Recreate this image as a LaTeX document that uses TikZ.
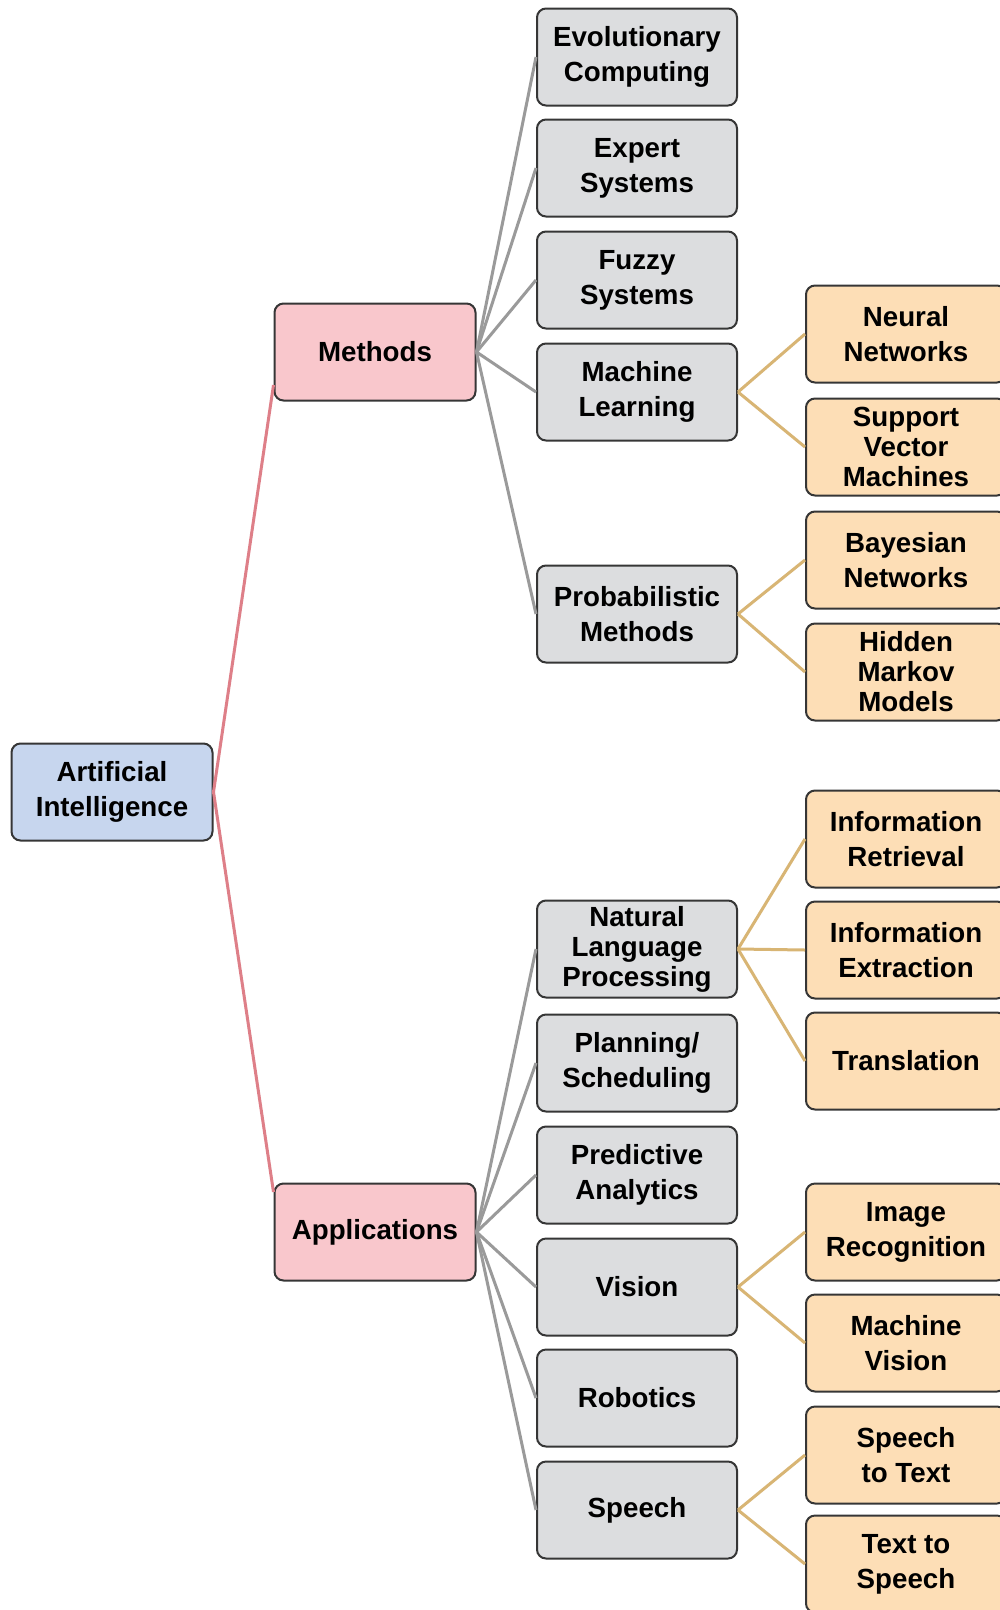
\documentclass[tikz,border=0pt]{standalone}
\usepackage{fontspec}
\setmainfont{Liberation Sans}
\definecolor{aiblue}{HTML}{C7D6EE}
\definecolor{branchpink}{HTML}{F9C7CC}
\definecolor{topicgray}{HTML}{DCDDDF}
\definecolor{leafpeach}{HTML}{FDDEB6}
\definecolor{boxline}{HTML}{363636}
\definecolor{linkred}{HTML}{DE7F88}
\definecolor{linkgray}{HTML}{9A9A9A}
\definecolor{linktan}{HTML}{D8B574}
\begin{document}
\begin{tikzpicture}[x=1pt,y=-1pt,
  box/.style={draw=boxline, line width=2pt, rounded corners=9pt,
    minimum width=200pt, minimum height=97pt, inner sep=0pt, align=center,
    text=black, font=\bfseries\fontsize{27.7}{35}\selectfont},
  tight/.style={font=\bfseries\fontsize{27.7}{30}\selectfont},
  rootbox/.style={box, fill=aiblue, minimum width=201pt},
  branchbox/.style={box, fill=branchpink, minimum width=201pt},
  topicbox/.style={box, fill=topicgray},
  leafbox/.style={box, fill=leafpeach},
  redlink/.style={draw=linkred, line width=3pt},
  graylink/.style={draw=linkgray, line width=3pt},
  tanlink/.style={draw=linktan, line width=3pt}]
\useasboundingbox (0,0) rectangle (1000,1610);
\clip (0,0) rectangle (1000,1610);
\fill[white] (0,0) rectangle (1000,1610);

% root and main branches
\node[rootbox] (ai) at (112,792) {Artificial\\Intelligence};
\node[branchbox] (meth) at (375,352) {Methods};
\node[branchbox] (app) at (375,1232) {Applications};

% methods
\node[topicbox] (evo) at (637,57) {Evolutionary\\Computing};
\node[topicbox] (exp) at (637,168) {Expert\\Systems};
\node[topicbox] (fuz) at (637,280) {Fuzzy\\Systems};
\node[topicbox] (ml) at (637,392) {Machine\\Learning};
\node[topicbox] (prob) at (637,614) {Probabilistic\\Methods};

% applications
\node[topicbox, tight] (nlp) at (637,949) {Natural\\Language\\Processing};
\node[topicbox] (plan) at (637,1063) {Planning/\\Scheduling};
\node[topicbox] (pred) at (637,1175) {Predictive\\Analytics};
\node[topicbox] (vis) at (637,1287) {Vision};
\node[topicbox] (rob) at (637,1398) {Robotics};
\node[topicbox] (sp) at (637,1510) {Speech};

% leaves
\node[leafbox] (nn) at (906,334) {Neural\\Networks};
\node[leafbox, tight] (svm) at (906,447) {Support\\Vector\\Machines};
\node[leafbox] (bay) at (906,560) {Bayesian\\Networks};
\node[leafbox, tight] (hmm) at (906,672) {Hidden\\Markov\\Models};
\node[leafbox] (ir) at (906,839) {Information\\Retrieval};
\node[leafbox] (ie) at (906,950) {Information\\Extraction};
\node[leafbox] (tr) at (906,1061) {Translation};
\node[leafbox] (imr) at (906,1232) {Image\\Recognition};
\node[leafbox] (mv) at (906,1343) {Machine\\Vision};
\node[leafbox] (stt) at (906,1455) {Speech\\to Text};
\node[leafbox] (tts) at (906,1564) {Text to\\Speech};

% connectors
\draw[redlink] (ai.east) -- ([yshift=-33pt]meth.west);
\draw[redlink] (ai.east) -- ([yshift=40pt]app.west);

\foreach \t in {evo,exp,fuz,ml,prob}
  \draw[graylink] (meth.east) -- (\t.west);
\foreach \t in {nlp,plan,pred,vis,rob,sp}
  \draw[graylink] (app.east) -- (\t.west);

\foreach \p/\c in {ml/nn,ml/svm,prob/bay,prob/hmm,nlp/ir,nlp/ie,nlp/tr,vis/imr,vis/mv,sp/stt,sp/tts}
  \draw[tanlink] (\p.east) -- (\c.west);
\end{tikzpicture}
\end{document}
